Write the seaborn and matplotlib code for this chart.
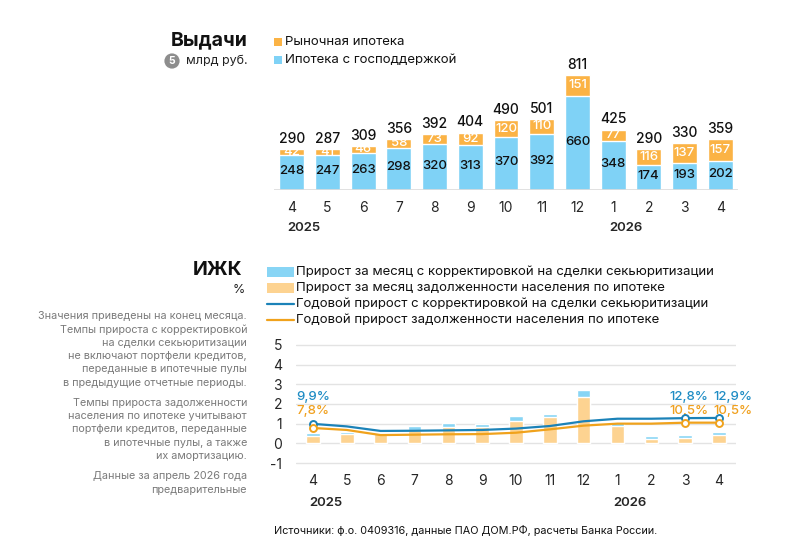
import numpy as np
import pandas as pd
import matplotlib
matplotlib.use('Agg')
import matplotlib.pyplot as plt
from matplotlib.patches import Rectangle
from matplotlib.lines import Line2D
import seaborn as sns

sns.set_theme(style='white')
plt.rcParams['font.family'] = ['Inter', 'DejaVu Sans']

# ---------------- data ----------------
months = ['4', '5', '6', '7', '8', '9', '10', '11', '12', '1', '2', '3', '4']
keys = ['2025-04', '2025-05', '2025-06', '2025-07', '2025-08', '2025-09', '2025-10',
        '2025-11', '2025-12', '2026-01', '2026-02', '2026-03', '2026-04']

# выдачи, млрд руб.
state_loans = [248, 247, 263, 298, 320, 313, 370, 392, 660, 348, 174, 193, 202]
market_loans = [42, 41, 46, 58, 73, 92, 120, 110, 151, 77, 116, 137, 157]
total_loans = [290, 287, 309, 356, 392, 404, 490, 501, 811, 425, 290, 330, 359]

# ИЖК, %
month_adj = [0.52, 0.60, 0.55, 0.87, 1.03, 1.00, 1.38, 1.48, 2.72, 1.10, 0.35, 0.42, 0.58]
month_raw = [0.38, 0.45, 0.52, 0.70, 0.85, 0.85, 1.15, 1.35, 2.37, 0.90, 0.22, 0.28, 0.42]
annual_adj = [9.9, 8.6, 6.3, 6.4, 6.6, 6.8, 7.5, 8.8, 11.2, 12.5, 12.5, 12.8, 12.9]
annual_raw = [7.8, 6.8, 4.2, 4.4, 4.6, 4.7, 5.4, 7.1, 9.0, 10.0, 10.0, 10.5, 10.5]

notes = [
    ['Значения приведены на конец месяца.',
     'Темпы прироста с корректировкой',
     'на сделки секьюритизации',
     'не включают портфели кредитов,',
     'переданные в ипотечные пулы',
     'в предыдущие отчетные периоды.'],
    ['Темпы прироста задолженности',
     'населения по ипотеке учитывают',
     'портфели кредитов, переданные',
     'в ипотечные пулы, а также',
     'их амортизацию.'],
    ['Данные за апрель 2026 года',
     'предварительные'],
]

BLUE = '#7fd2f6'
ORANGE = '#fbb345'
BLUE_L = '#88d5f5'
ORANGE_L = '#fdd391'
LINE_BLUE = '#1b82b8'
LINE_ORANGE = '#f0a21c'
TXT_BLUE = '#1e8cc4'
TXT_ORANGE = '#f0a01e'

W, H = 800, 552
fig = plt.figure(figsize=(8, 5.52), dpi=100)


def fx(px):
    return px / W


def fy(py):
    return 1 - py / H


# ---------------- top chart ----------------
loans = pd.DataFrame({'key': keys, 'state': state_loans,
                      'market': market_loans, 'total': total_loans})

ax1 = fig.add_axes([fx(274), fy(190), fx(464), 128 / H])
sns.barplot(data=loans, x='key', y='total', color=ORANGE, width=0.7,
            saturation=1, ax=ax1)
sns.barplot(data=loans, x='key', y='state', color=BLUE, width=0.7,
            saturation=1, ax=ax1)
ax1.set_ylim(0, 900)
ax1.set_xlim(-0.5, 12.5)
ax1.axhline(0, color='#dcdcdc', lw=1.2)
for s in ax1.spines.values():
    s.set_visible(False)
ax1.set_yticks([])
ax1.set_xlabel('')
ax1.set_ylabel('')
ax1.set_xticks(range(len(months)))
ax1.set_xticklabels(months, fontsize=10)
ax1.tick_params(axis='x', length=0, pad=8)

for i in range(len(keys)):
    st, mk, tt = state_loans[i], market_loans[i], total_loans[i]
    ax1.text(i, tt + 22, str(tt), ha='center', va='bottom', fontsize=10,
             fontweight='medium', color='#111111')
    ax1.text(i, st + mk / 2, str(mk), ha='center', va='center', fontsize=9.5,
             fontweight='medium', color='white')
    ax1.text(i, st / 2 + 10, str(st), ha='center', va='center', fontsize=9.5,
             fontweight='medium', color='#111111')

ax1.text(-0.12, -0.3, '2025', transform=ax1.get_xaxis_transform(),
         ha='left', va='center', fontsize=9.5, fontweight='semibold')
ax1.text(8.88, -0.3, '2026', transform=ax1.get_xaxis_transform(),
         ha='left', va='center', fontsize=9.5, fontweight='semibold')

fig.text(fx(248), fy(40), 'Выдачи', ha='right', va='center', fontsize=14,
         fontweight='bold', color='#111111')
fig.text(fx(172), fy(61), '5', ha='center', va='center', fontsize=7.5,
         fontweight='bold', color='white',
         bbox=dict(boxstyle='circle,pad=0.25', fc='#8d8d8d', ec='none'))
fig.text(fx(248), fy(61), 'млрд руб.', ha='right', va='center', fontsize=9,
         color='#222222')

for py, col, lab in [(42, ORANGE, 'Рыночная ипотека'),
                     (60, BLUE, 'Ипотека с господдержкой')]:
    fig.patches.append(Rectangle((fx(274), fy(py + 4)), fx(8), 8 / H,
                                 transform=fig.transFigure, fc=col, ec='none'))
    fig.text(fx(285), fy(py), lab, ha='left', va='center', fontsize=9.5,
             color='#111111')

# ---------------- bottom chart ----------------
izhk = pd.DataFrame({'key': keys, 'adj': month_adj, 'raw': month_raw})

ax2 = fig.add_axes([fx(296), fy(472.9), fx(440), 137.9 / H])
for v in range(-1, 6):
    ax2.axhline(v, color='#e3e3e3', lw=1, zorder=0)
sns.barplot(data=izhk, x='key', y='adj', color=BLUE_L, width=0.4,
            saturation=1, ax=ax2, zorder=2)
sns.barplot(data=izhk, x='key', y='raw', color=ORANGE_L, width=0.4,
            saturation=1, ax=ax2, zorder=2)

xs = np.arange(len(keys))
ya = np.array(annual_adj) / 10
yr = np.array(annual_raw) / 10
sns.lineplot(x=xs, y=ya, color=LINE_BLUE, lw=1.6, ax=ax2, zorder=4)
sns.lineplot(x=xs, y=yr, color=LINE_ORANGE, lw=1.6, ax=ax2, zorder=4)
mark = [0, 11, 12]
ax2.plot(xs[mark], ya[mark], 'o', ms=5, mfc='white', mec=LINE_BLUE, mew=1.4, zorder=5)
ax2.plot(xs[mark], yr[mark], 'o', ms=5, mfc='white', mec=LINE_ORANGE, mew=1.4, zorder=5)

for i, dx in [(0, 0), (11, 0.1), (12, 0.42)]:
    ax2.text(i + dx, 2.36, f'{annual_adj[i]:.1f}%'.replace('.', ','), ha='center',
             va='center', fontsize=9.5, fontweight='medium', color=TXT_BLUE)
    ax2.text(i + dx, 1.62, f'{annual_raw[i]:.1f}%'.replace('.', ','), ha='center',
             va='center', fontsize=9.5, fontweight='medium', color=TXT_ORANGE)

ax2.set_ylim(-1.5, 5.5)
ax2.set_xlim(-0.5, 12.5)
for s in ax2.spines.values():
    s.set_visible(False)
ax2.set_yticks(range(-1, 6))
ax2.set_yticklabels([str(v) for v in range(-1, 6)], fontsize=10)
ax2.tick_params(axis='y', length=0, pad=10)
ax2.set_xticks(range(len(months)))
ax2.set_xticklabels(months, fontsize=10)
ax2.tick_params(axis='x', length=0, pad=1)
ax2.set_xlabel('')
ax2.set_ylabel('')
ax2.text(-0.12, -0.22, '2025', transform=ax2.get_xaxis_transform(),
         ha='left', va='center', fontsize=9.5, fontweight='semibold')
ax2.text(8.88, -0.22, '2026', transform=ax2.get_xaxis_transform(),
         ha='left', va='center', fontsize=9.5, fontweight='semibold')

fig.text(fx(242), fy(270), 'ИЖК', ha='right', va='center', fontsize=14,
         fontweight='bold', color='#111111')
fig.text(fx(245), fy(290), '%', ha='right', va='center', fontsize=9,
         color='#222222')

leg_rows = [(272, 'bar', BLUE_L, 'Прирост за месяц с корректировкой на сделки секьюритизации'),
            (288, 'bar', ORANGE_L, 'Прирост за месяц задолженности населения по ипотеке'),
            (304, 'line', LINE_BLUE, 'Годовой прирост с корректировкой на сделки секьюритизации'),
            (320, 'line', LINE_ORANGE, 'Годовой прирост задолженности населения по ипотеке')]
for py, kind, col, lab in leg_rows:
    if kind == 'bar':
        fig.patches.append(Rectangle((fx(267), fy(py + 5)), fx(27), 10 / H,
                                     transform=fig.transFigure, fc=col, ec='none'))
    else:
        fig.lines.append(Line2D([fx(267), fx(294)], [fy(py), fy(py)],
                                transform=fig.transFigure, color=col, lw=1.6))
    fig.text(fx(296), fy(py), lab, ha='left', va='center', fontsize=9.5,
             color='#111111')

py = 316
for para in notes:
    for line in para:
        fig.text(fx(247), fy(py), line, ha='right', va='center', fontsize=7.8,
                 color='#7a7a7a')
        py += 13.3
    py += 7

fig.text(fx(274), fy(530), 'Источники: ф.о. 0409316, данные ПАО ДОМ.РФ, расчеты Банка России.',
         ha='left', va='center', fontsize=7.8, color='#111111')

fig.savefig('out.png', dpi=100, facecolor='white')
